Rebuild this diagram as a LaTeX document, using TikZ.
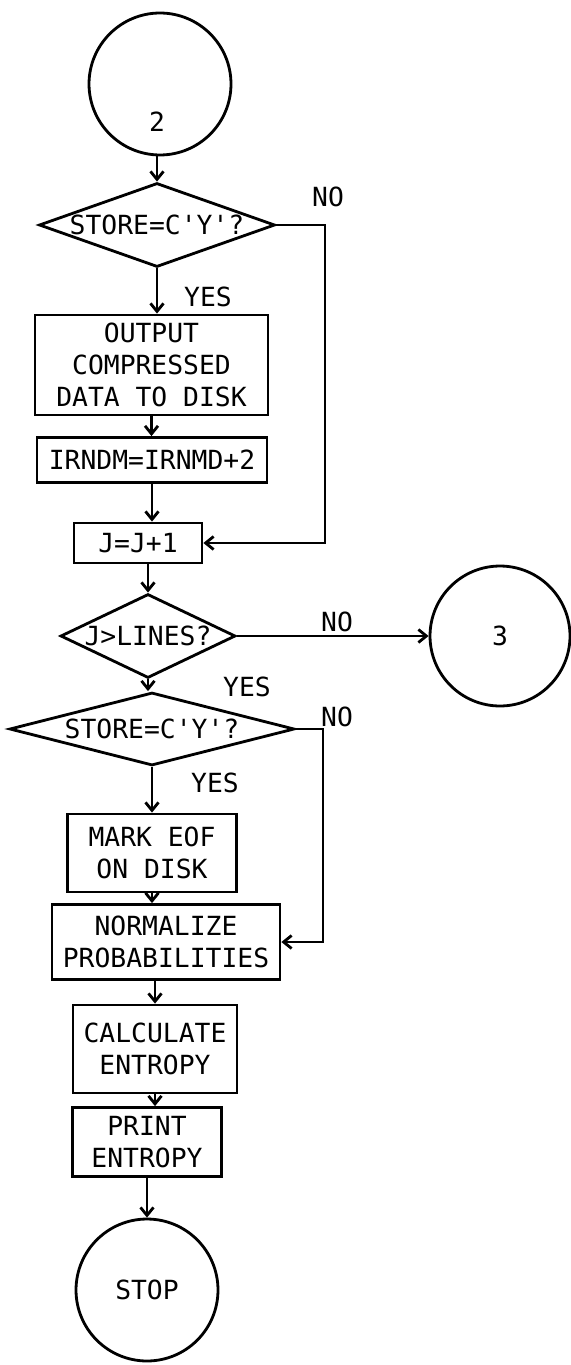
\documentclass[tikz,border=0pt]{standalone}
\usepackage{fontspec}
\newfontfamily\chartfont{DejaVu Sans Mono}
\usetikzlibrary{shapes.geometric,arrows.meta}

\begin{document}
\begin{tikzpicture}[x=0.02cm, y=-0.02cm,
    every node/.style={font=\chartfont\fontsize{15}{18}\selectfont},
    conn/.style={circle, draw, line width=1.6pt, inner sep=0pt},
    decision/.style={diamond, draw, line width=1.6pt, inner sep=0pt},
    process/.style={rectangle, draw, line width=1.6pt, align=center, inner sep=0pt},
    lbl/.style={inner sep=0pt},
    arr/.style={line width=1.6pt, -{Straight Barb[length=1.6mm, width=2.6mm]}}]

    \useasboundingbox (0,0) rectangle (571,1365);

    % Connectors and decisions
    \node[conn, minimum size=2.84cm] (c2) at (160,84) {};
    \node (c2txt) at (157,122) {2};
    \node[decision, minimum width=4.72cm, minimum height=1.68cm, aspect=2.9] (d1) at (157,225) {STORE=C'Y'?};
    \node[process, minimum width=4.66cm, minimum height=2.0cm] (b1) at (151.5,365) {OUTPUT\\COMPRESSED\\DATA TO DISK};
    \node[process, minimum width=4.6cm, minimum height=0.9cm] (b2) at (152,460) {IRNDM=IRNMD+2};
    \node[process, minimum width=2.56cm, minimum height=0.8cm] (b3) at (138,543) {J=J+1};
    \node[decision, minimum width=3.5cm, minimum height=1.68cm, aspect=2.2] (d2) at (148,636) {J>LINES?};
    \node[conn, minimum size=2.8cm] (c3) at (500,636) {3};
    \node[decision, minimum width=5.7cm, minimum height=1.46cm, aspect=4] (d3) at (152,729) {STORE=C'Y'?};
    \node[process, minimum width=3.38cm, minimum height=1.56cm] (b4) at (152,853) {MARK EOF\\ON DISK};
    \node[process, minimum width=4.56cm, minimum height=1.5cm] (b5) at (166,942) {NORMALIZE\\PROBABILITIES};
    \node[process, minimum width=3.28cm, minimum height=1.76cm] (b6) at (155,1049) {CALCULATE\\ENTROPY};
    \node[process, minimum width=2.98cm, minimum height=1.38cm] (b7) at (147,1142) {PRINT\\ENTROPY};
    \node[conn, minimum size=2.84cm] (c4) at (147,1290) {STOP};

    % Branch labels
    \node[lbl] (no1) at (328,197) {NO};
    \node[lbl] (yes1) at (208,297) {YES};
    \node[lbl] (no2) at (337,622) {NO};
    \node[lbl] (yes2) at (247,687) {YES};
    \node[lbl] (no3) at (337,717) {NO};
    \node[lbl] (yes3) at (215,783) {YES};

    % Return lines on the right
    \coordinate (loop1) at (325,0);
    \coordinate (loop2) at (323,0);

    % Draw the flow
    \draw[arr] (d1.north |- c2.south) -- (d1.north);
    \draw[arr] (d1.south) -- (d1.south |- b1.north);
    \draw[arr] (b1.south) -- (b1.south |- b2.north);
    \draw[arr] (b2.south) -- (b2.south |- b3.north);
    \draw[arr] (d1.east) -| (loop1 |- b3.east) -- (b3.east);
    \draw[arr] (d2.north |- b3.south) -- (d2.north);
    \draw[arr] (d2.east) -- (c3.west);
    \draw[arr] (d2.south) -- (d2.south |- d3.north);
    \draw[arr] (d3.south) -- (d3.south |- b4.north);
    \draw[arr] (d3.east) -| (loop2 |- b5.east) -- (b5.east);
    \draw[arr] (b4.south) -- (b4.south |- b5.north);
    \draw[arr] (b6.north |- b5.south) -- (b6.north);
    \draw[arr] (b6.south) -- (b6.south |- b7.north);
    \draw[arr] (c4.north |- b7.south) -- (c4.north);
\end{tikzpicture}
\end{document}
